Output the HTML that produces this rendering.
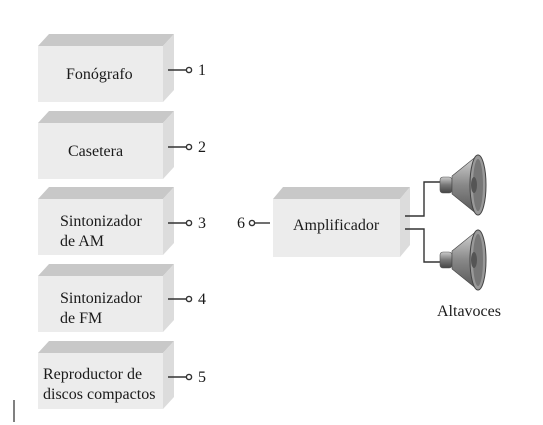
<!DOCTYPE html>
<html><head><meta charset="utf-8"><style>
html,body{margin:0;padding:0;background:#fff;}
svg{display:block;}
text{font-family:"Liberation Serif","Times New Roman","DejaVu Serif",serif;font-size:16px;fill:#1a1a1a;}
</style></head><body>
<svg width="543" height="425" viewBox="0 0 543 425" xmlns="http://www.w3.org/2000/svg">
<defs>
<linearGradient id="cone" x1="0" y1="0" x2="0" y2="1">
<stop offset="0" stop-color="#d8d8d8"/><stop offset="0.5" stop-color="#888"/><stop offset="1" stop-color="#555"/>
</linearGradient>
<linearGradient id="mag" x1="0" y1="0" x2="0" y2="1">
<stop offset="0" stop-color="#ccc"/><stop offset="0.5" stop-color="#777"/><stop offset="1" stop-color="#444"/>
</linearGradient>
<g id="box">
<polygon points="0,0 11,-12 136,-12 125,0" fill="#c8c8c8"/>
<polygon points="125,0 136,-12 136,44 125,56" fill="#dcdcdc"/>
<rect x="0" y="0" width="125" height="56" fill="#ececec"/>
</g>
<g id="spk">
<rect x="0" y="-8" width="12" height="16" rx="3" fill="url(#mag)" stroke="#555" stroke-width="0.6"/>
<polygon points="12,-9 38,-30 38,30 12,9" fill="url(#cone)" stroke="#444" stroke-width="0.6"/>
<ellipse cx="38" cy="0" rx="8" ry="30" fill="#999" stroke="#444" stroke-width="1"/>
<ellipse cx="38" cy="0" rx="5" ry="26" fill="#777"/>
<ellipse cx="34" cy="0" rx="3" ry="8" fill="#555"/>
</g>
</defs>
<use href="#box" x="38" y="46"/>
<use href="#box" x="38" y="123"/>
<use href="#box" x="38" y="199"/>
<use href="#box" x="38" y="276"/>
<use href="#box" x="38" y="353"/>
<polygon points="273,199 283,187 410,187 400,199" fill="#c8c8c8"/>
<polygon points="400,199 410,187 410,245 400,257" fill="#dcdcdc"/>
<rect x="273" y="199" width="127" height="58" fill="#ececec"/>

<text x="66" y="79">Fonógrafo</text>
<text x="68" y="156">Casetera</text>
<text x="60" y="226">Sintonizador</text>
<text x="60" y="246">de AM</text>
<text x="60" y="303">Sintonizador</text>
<text x="60" y="323">de FM</text>
<text x="43" y="379">Reproductor de</text>
<text x="43" y="399">discos compactos</text>
<text x="293" y="230">Amplificador</text>
<text x="437" y="316">Altavoces</text>

<g stroke="#333" stroke-width="1.4" fill="#fff">
<line x1="168" y1="70" x2="186" y2="70"/><circle cx="189" cy="70" r="2.6"/>
<line x1="168" y1="147" x2="186" y2="147"/><circle cx="189" cy="147" r="2.6"/>
<line x1="168" y1="223" x2="186" y2="223"/><circle cx="189" cy="223" r="2.6"/>
<line x1="168" y1="299" x2="186" y2="299"/><circle cx="189" cy="299" r="2.6"/>
<line x1="168" y1="377" x2="186" y2="377"/><circle cx="189" cy="377" r="2.6"/>
<line x1="255" y1="223" x2="270" y2="223"/><circle cx="252" cy="223" r="2.6"/>
<polyline points="405,216 424,216 424,182 440,182" fill="none"/>
<polyline points="405,229 424,229 424,262 440,262" fill="none"/>
</g>
<text x="198" y="75">1</text>
<text x="198" y="152">2</text>
<text x="198" y="228">3</text>
<text x="198" y="304">4</text>
<text x="198" y="382">5</text>
<text x="237" y="228">6</text>
<use href="#spk" x="440" y="185"/>
<use href="#spk" x="440" y="260"/>
<line x1="14" y1="400" x2="14" y2="422" stroke="#000" stroke-width="1"/>
</svg>
</body></html>
